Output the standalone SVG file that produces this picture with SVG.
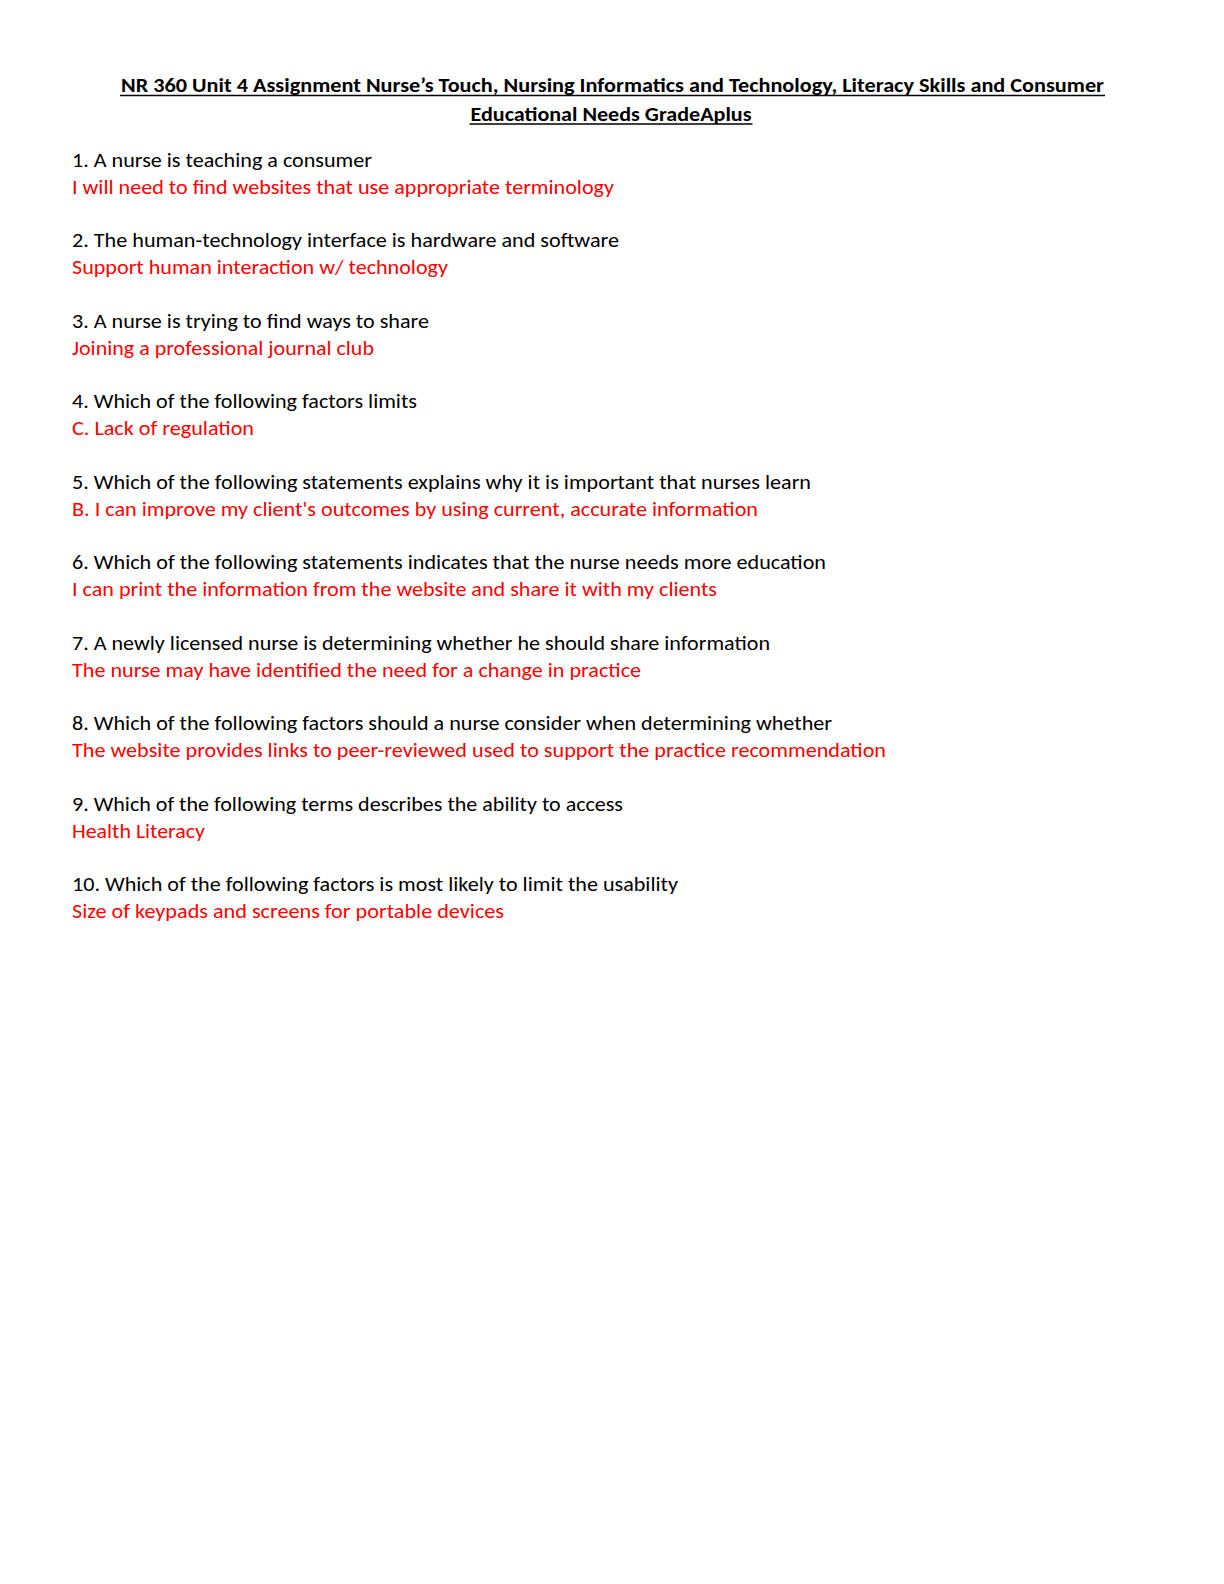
<svg xmlns="http://www.w3.org/2000/svg" width="1224" height="1584" viewBox="0 0 1224 1584">
<style>
text{font-family:Carlito,Lato,"Open Sans",sans-serif;font-size:19.5px}
.t{font-weight:bold;fill:#000}
.q{fill:#000}
.a{fill:#FF0000}
.u{stroke:#000;stroke-width:1.6}
</style>
<rect width="1224" height="1584" fill="#fff"/>
<g id="title">
<text class="t" x="121" y="92" textLength="983" lengthAdjust="spacingAndGlyphs">NR 360 Unit 4 Assignment Nurse’s Touch, Nursing Informatics and Technology, Literacy Skills and Consumer</text>
<line class="u" x1="120" y1="95.5" x2="1105" y2="95.5"/>
<text class="t" x="470.5" y="120.5" textLength="281" lengthAdjust="spacingAndGlyphs">Educational Needs GradeAplus</text>
<line class="u" x1="469.5" y1="124" x2="752.5" y2="124"/>
</g>
<g id="item1">
<text class="q" x="72" y="166.7" textLength="300" lengthAdjust="spacingAndGlyphs">1. A nurse is teaching a consumer</text>
<text class="a" x="72" y="193.5" textLength="542" lengthAdjust="spacingAndGlyphs">I will need to find websites that use appropriate terminology</text>
</g>
<g id="item2">
<text class="q" x="72" y="247.2" textLength="547" lengthAdjust="spacingAndGlyphs">2. The human-technology interface is hardware and software</text>
<text class="a" x="72" y="274" textLength="376" lengthAdjust="spacingAndGlyphs">Support human interaction w/ technology</text>
</g>
<g id="item3">
<text class="q" x="72" y="327.6" textLength="357" lengthAdjust="spacingAndGlyphs">3. A nurse is trying to find ways to share</text>
<text class="a" x="72" y="354.6" textLength="302" lengthAdjust="spacingAndGlyphs">Joining a professional journal club</text>
</g>
<g id="item4">
<text class="q" x="72" y="408.2" textLength="345" lengthAdjust="spacingAndGlyphs">4. Which of the following factors limits</text>
<text class="a" x="72" y="435" textLength="182" lengthAdjust="spacingAndGlyphs">C. Lack of regulation</text>
</g>
<g id="item5">
<text class="q" x="72" y="488.7" textLength="739" lengthAdjust="spacingAndGlyphs">5. Which of the following statements explains why it is important that nurses learn</text>
<text class="a" x="72" y="515.5" textLength="686" lengthAdjust="spacingAndGlyphs">B. I can improve my client's outcomes by using current, accurate information</text>
</g>
<g id="item6">
<text class="q" x="72" y="569.2" textLength="754" lengthAdjust="spacingAndGlyphs">6. Which of the following statements indicates that the nurse needs more education</text>
<text class="a" x="72" y="596" textLength="645" lengthAdjust="spacingAndGlyphs">I can print the information from the website and share it with my clients</text>
</g>
<g id="item7">
<text class="q" x="72" y="649.8" textLength="698" lengthAdjust="spacingAndGlyphs">7. A newly licensed nurse is determining whether he should share information</text>
<text class="a" x="72" y="676.6" textLength="569" lengthAdjust="spacingAndGlyphs">The nurse may have identified the need for a change in practice</text>
</g>
<g id="item8">
<text class="q" x="72" y="730.3" textLength="760" lengthAdjust="spacingAndGlyphs">8. Which of the following factors should a nurse consider when determining whether</text>
<text class="a" x="72" y="757.1" textLength="814" lengthAdjust="spacingAndGlyphs">The website provides links to peer-reviewed used to support the practice recommendation</text>
</g>
<g id="item9">
<text class="q" x="72" y="810.8" textLength="551" lengthAdjust="spacingAndGlyphs">9. Which of the following terms describes the ability to access</text>
<text class="a" x="72" y="837.6" textLength="133" lengthAdjust="spacingAndGlyphs">Health Literacy</text>
</g>
<g id="item10">
<text class="q" x="72" y="891.3" textLength="606" lengthAdjust="spacingAndGlyphs">10. Which of the following factors is most likely to limit the usability</text>
<text class="a" x="72" y="918.1" textLength="432" lengthAdjust="spacingAndGlyphs">Size of keypads and screens for portable devices</text>
</g>
</svg>
